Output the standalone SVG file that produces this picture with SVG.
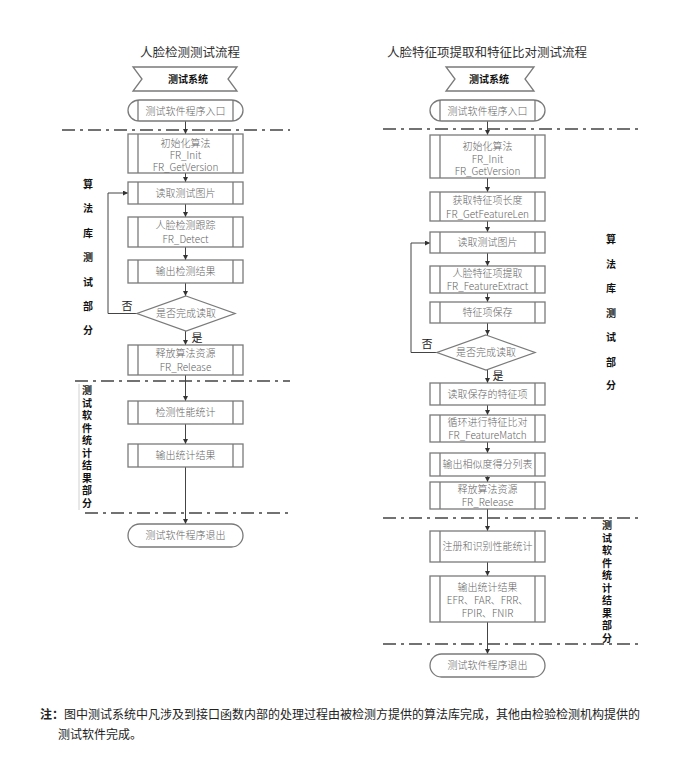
<svg xmlns="http://www.w3.org/2000/svg" width="675" height="758" viewBox="0 0 675 758">
<defs>
<style>
.box{fill:#fff;stroke:#7a7a7a;stroke-width:1.3}
.in{stroke:#7a7a7a;stroke-width:1.3;fill:none}
.t{font-family:"Noto Sans CJK SC","Noto Sans",sans-serif;font-size:10px;fill:#666;text-anchor:middle;font-weight:300}
.bt{font-family:"Noto Sans CJK SC",sans-serif;font-size:10px;fill:#111;text-anchor:middle;font-weight:700}
.title{font-family:"Noto Sans CJK SC",sans-serif;font-size:12.5px;fill:#333;text-anchor:middle}
.lab{font-family:"Noto Sans CJK SC",sans-serif;font-size:10px;fill:#111;text-anchor:middle;font-weight:700}
.yn{font-family:"Noto Sans CJK SC",sans-serif;font-size:11px;fill:#222;text-anchor:middle}
.con{stroke:#444;stroke-width:1;fill:none}
.dash{stroke:#444;stroke-width:1.3;fill:none;stroke-dasharray:13 5 3 5}
.note{font-family:"Liberation Serif","Noto Sans CJK SC",serif;font-size:12px;fill:#222}
</style>
<marker id="ah" viewBox="0 0 8 8" refX="8" refY="4" markerWidth="5" markerHeight="5" orient="auto">
<path d="M0,0 L8,4 L0,8 z" fill="#333"/>
</marker>
</defs>
<rect width="675" height="758" fill="#fff"/>

<text class="title" x="190" y="57">人脸检测测试流程</text>
<text class="title" x="487" y="57">人脸特征项提取和特征比对测试流程</text>

<g id="separators">
<line class="dash" x1="62" y1="130" x2="290" y2="130"/>
<line class="dash" x1="75" y1="381" x2="290" y2="381"/>
<line class="dash" x1="85" y1="513" x2="290" y2="513"/>
<line x1="79" y1="384" x2="79" y2="510" stroke="#c4c4c4" stroke-width="0.8"/>
<line class="dash" x1="383" y1="129" x2="640" y2="129"/>
<line class="dash" x1="383" y1="518" x2="640" y2="518"/>
<line class="dash" x1="383" y1="644" x2="640" y2="644"/>
</g>

<g id="labels">
<text class="lab" x="88"><tspan x="88" y="188">算</tspan><tspan x="88" y="212">法</tspan><tspan x="88" y="237">库</tspan><tspan x="88" y="261">测</tspan><tspan x="88" y="286">试</tspan><tspan x="88" y="310">部</tspan><tspan x="88" y="334">分</tspan></text>
<text class="lab" x="87"><tspan x="87" y="394">测</tspan><tspan x="87" y="406.5">试</tspan><tspan x="87" y="419">软</tspan><tspan x="87" y="431.5">件</tspan><tspan x="87" y="444">统</tspan><tspan x="87" y="456.5">计</tspan><tspan x="87" y="469">结</tspan><tspan x="87" y="481.5">果</tspan><tspan x="87" y="494">部</tspan><tspan x="87" y="506.5">分</tspan></text>
<text class="lab" x="611"><tspan x="611" y="243">算</tspan><tspan x="611" y="268">法</tspan><tspan x="611" y="292">库</tspan><tspan x="611" y="317">测</tspan><tspan x="611" y="341">试</tspan><tspan x="611" y="366">部</tspan><tspan x="611" y="389">分</tspan></text>
<text class="lab" x="607"><tspan x="607" y="529">测</tspan><tspan x="607" y="541.5">试</tspan><tspan x="607" y="554">软</tspan><tspan x="607" y="566.5">件</tspan><tspan x="607" y="579">统</tspan><tspan x="607" y="591.5">计</tspan><tspan x="607" y="604">结</tspan><tspan x="607" y="616.5">果</tspan><tspan x="607" y="629">部</tspan><tspan x="607" y="641.5">分</tspan></text>
</g>

<g id="connectors">
<line class="con" x1="185.5" y1="121" x2="185.5" y2="134" marker-end="url(#ah)"/>
<line class="con" x1="185.5" y1="173" x2="185.5" y2="182" marker-end="url(#ah)"/>
<line class="con" x1="185.5" y1="204" x2="185.5" y2="217" marker-end="url(#ah)"/>
<line class="con" x1="185.5" y1="247" x2="185.5" y2="260" marker-end="url(#ah)"/>
<line class="con" x1="185.5" y1="283" x2="185.5" y2="296" marker-end="url(#ah)"/>
<line class="con" x1="185.5" y1="331" x2="185.5" y2="345" marker-end="url(#ah)"/>
<line class="con" x1="185.5" y1="375" x2="185.5" y2="401" marker-end="url(#ah)"/>
<line class="con" x1="185.5" y1="424" x2="185.5" y2="444" marker-end="url(#ah)"/>
<line class="con" x1="185.5" y1="467" x2="185.5" y2="524" marker-end="url(#ah)"/>
<polyline class="con" points="137,313.5 108,313.5 108,193 128,193" marker-end="url(#ah)"/>
<text class="yn" x="127" y="310">否</text>
<text class="yn" x="197" y="342">是</text>

<line class="con" x1="487.5" y1="121" x2="487.5" y2="135" marker-end="url(#ah)"/>
<line class="con" x1="487.5" y1="178" x2="487.5" y2="192" marker-end="url(#ah)"/>
<line class="con" x1="487.5" y1="221" x2="487.5" y2="232" marker-end="url(#ah)"/>
<line class="con" x1="487.5" y1="253" x2="487.5" y2="266" marker-end="url(#ah)"/>
<line class="con" x1="487.5" y1="293" x2="487.5" y2="302" marker-end="url(#ah)"/>
<line class="con" x1="487.5" y1="323" x2="487.5" y2="335" marker-end="url(#ah)"/>
<line class="con" x1="487.5" y1="370" x2="487.5" y2="383" marker-end="url(#ah)"/>
<line class="con" x1="487.5" y1="405" x2="487.5" y2="415" marker-end="url(#ah)"/>
<line class="con" x1="487.5" y1="442" x2="487.5" y2="453" marker-end="url(#ah)"/>
<line class="con" x1="487.5" y1="476" x2="487.5" y2="482" marker-end="url(#ah)"/>
<line class="con" x1="487.5" y1="509" x2="487.5" y2="531" marker-end="url(#ah)"/>
<line class="con" x1="487.5" y1="562" x2="487.5" y2="576" marker-end="url(#ah)"/>
<line class="con" x1="487.5" y1="622" x2="487.5" y2="654" marker-end="url(#ah)"/>
<polyline class="con" points="437,352.5 411,352.5 411,243 430,243" marker-end="url(#ah)"/>
<text class="yn" x="427" y="348">否</text>
<text class="yn" x="498" y="380">是</text>
</g>

<g id="L-system">
<path class="box" d="M133,67 H237 L228,79 L237,91 H133 L142,79 Z"/>
<text class="bt" x="188" y="83">测试系统</text>
</g>
<g id="L-start">
<path class="box" d="M139.5,100 H231.5 A11.5,10.5 0 0 1 231.5,121 H139.5 A11.5,10.5 0 0 1 139.5,100 Z"/>
<line class="in" x1="138" y1="100" x2="138" y2="121"/><line class="in" x1="233" y1="100" x2="233" y2="121"/>
<text class="t" x="185.5" y="114.5">测试软件程序入口</text>
</g>
<g id="L-init">
<rect class="box" x="128" y="134" width="115" height="39"/>
<line class="in" x1="138" y1="134" x2="138" y2="173"/><line class="in" x1="233" y1="134" x2="233" y2="173"/>
<text class="t" x="185.5" y="147">初始化算法</text>
<text class="t" x="185.5" y="159">FR_Init</text>
<text class="t" x="185.5" y="171">FR_GetVersion</text>
</g>
<g id="L-read">
<rect class="box" x="128" y="182" width="115" height="22"/>
<line class="in" x1="138" y1="182" x2="138" y2="204"/><line class="in" x1="233" y1="182" x2="233" y2="204"/>
<text class="t" x="185.5" y="196.5">读取测试图片</text>
</g>
<g id="L-detect">
<rect class="box" x="128" y="217" width="115" height="30"/>
<line class="in" x1="138" y1="217" x2="138" y2="247"/><line class="in" x1="233" y1="217" x2="233" y2="247"/>
<text class="t" x="185.5" y="229">人脸检测跟踪</text>
<text class="t" x="185.5" y="243">FR_Detect</text>
</g>
<g id="L-output">
<rect class="box" x="128" y="260" width="115" height="23"/>
<line class="in" x1="138" y1="260" x2="138" y2="283"/><line class="in" x1="233" y1="260" x2="233" y2="283"/>
<text class="t" x="185.5" y="275">输出检测结果</text>
</g>
<g id="L-decision">
<path class="box" d="M186,296 L235,313.5 L186,331 L137,313.5 Z"/>
<text class="t" x="186" y="317">是否完成读取</text>
</g>
<g id="L-release">
<rect class="box" x="128" y="345" width="115" height="30"/>
<line class="in" x1="138" y1="345" x2="138" y2="375"/><line class="in" x1="233" y1="345" x2="233" y2="375"/>
<text class="t" x="185.5" y="357">释放算法资源</text>
<text class="t" x="185.5" y="371">FR_Release</text>
</g>
<g id="L-stat">
<rect class="box" x="128" y="401" width="115" height="23"/>
<line class="in" x1="138" y1="401" x2="138" y2="424"/><line class="in" x1="233" y1="401" x2="233" y2="424"/>
<text class="t" x="185.5" y="416">检测性能统计</text>
</g>
<g id="L-out2">
<rect class="box" x="128" y="444" width="115" height="23"/>
<line class="in" x1="138" y1="444" x2="138" y2="467"/><line class="in" x1="233" y1="444" x2="233" y2="467"/>
<text class="t" x="185.5" y="459">输出统计结果</text>
</g>
<g id="L-end">
<rect class="box" x="128" y="524" width="115" height="23" rx="11.5" ry="11.5"/>
<text class="t" x="185.5" y="539">测试软件程序退出</text>
</g>

<g id="R-system">
<path class="box" d="M446,67 H534 L525,79 L534,91 H446 L455,79 Z"/>
<text class="bt" x="489" y="83">测试系统</text>
</g>
<g id="R-start">
<path class="box" d="M441.5,100 H533.5 A11.5,10.5 0 0 1 533.5,121 H441.5 A11.5,10.5 0 0 1 441.5,100 Z"/>
<line class="in" x1="440" y1="100" x2="440" y2="121"/><line class="in" x1="535" y1="100" x2="535" y2="121"/>
<text class="t" x="487.5" y="114.5">测试软件程序入口</text>
</g>
<g id="R-init">
<rect class="box" x="430" y="135" width="115" height="43"/>
<line class="in" x1="440" y1="135" x2="440" y2="178"/><line class="in" x1="535" y1="135" x2="535" y2="178"/>
<text class="t" x="487.5" y="150">初始化算法</text>
<text class="t" x="487.5" y="162.5">FR_Init</text>
<text class="t" x="487.5" y="175">FR_GetVersion</text>
</g>
<g id="R-getlen">
<rect class="box" x="430" y="192" width="115" height="29"/>
<line class="in" x1="440" y1="192" x2="440" y2="221"/><line class="in" x1="535" y1="192" x2="535" y2="221"/>
<text class="t" x="487.5" y="204">获取特征项长度</text>
<text class="t" x="487.5" y="217.5">FR_GetFeatureLen</text>
</g>
<g id="R-read">
<rect class="box" x="430" y="232" width="115" height="21"/>
<line class="in" x1="440" y1="232" x2="440" y2="253"/><line class="in" x1="535" y1="232" x2="535" y2="253"/>
<text class="t" x="487.5" y="246">读取测试图片</text>
</g>
<g id="R-extract">
<rect class="box" x="430" y="266" width="115" height="27"/>
<line class="in" x1="440" y1="266" x2="440" y2="293"/><line class="in" x1="535" y1="266" x2="535" y2="293"/>
<text class="t" x="487.5" y="277">人脸特征项提取</text>
<text class="t" x="487.5" y="290">FR_FeatureExtract</text>
</g>
<g id="R-save">
<rect class="box" x="430" y="302" width="115" height="21"/>
<line class="in" x1="440" y1="302" x2="440" y2="323"/><line class="in" x1="535" y1="302" x2="535" y2="323"/>
<text class="t" x="487.5" y="316">特征项保存</text>
</g>
<g id="R-decision">
<path class="box" d="M486,335 L535,352.5 L486,370 L437,352.5 Z"/>
<text class="t" x="486" y="356">是否完成读取</text>
</g>
<g id="R-readsaved">
<rect class="box" x="430" y="383" width="115" height="22"/>
<line class="in" x1="440" y1="383" x2="440" y2="405"/><line class="in" x1="535" y1="383" x2="535" y2="405"/>
<text class="t" x="487.5" y="397.5">读取保存的特征项</text>
</g>
<g id="R-match">
<rect class="box" x="430" y="415" width="115" height="27"/>
<line class="in" x1="440" y1="415" x2="440" y2="442"/><line class="in" x1="535" y1="415" x2="535" y2="442"/>
<text class="t" x="487.5" y="426">循环进行特征比对</text>
<text class="t" x="487.5" y="439">FR_FeatureMatch</text>
</g>
<g id="R-score">
<rect class="box" x="430" y="453" width="115" height="23"/>
<line class="in" x1="440" y1="453" x2="440" y2="476"/><line class="in" x1="535" y1="453" x2="535" y2="476"/>
<text class="t" x="487.5" y="468">输出相似度得分列表</text>
</g>
<g id="R-release">
<rect class="box" x="430" y="482" width="115" height="27"/>
<line class="in" x1="440" y1="482" x2="440" y2="509"/><line class="in" x1="535" y1="482" x2="535" y2="509"/>
<text class="t" x="487.5" y="493">释放算法资源</text>
<text class="t" x="487.5" y="506">FR_Release</text>
</g>
<g id="R-register">
<rect class="box" x="430" y="531" width="115" height="31"/>
<line class="in" x1="440" y1="531" x2="440" y2="562"/><line class="in" x1="535" y1="531" x2="535" y2="562"/>
<text class="t" x="487.5" y="550">注册和识别性能统计</text>
</g>
<g id="R-out">
<rect class="box" x="430" y="576" width="115" height="46"/>
<line class="in" x1="440" y1="576" x2="440" y2="622"/><line class="in" x1="535" y1="576" x2="535" y2="622"/>
<text class="t" x="487.5" y="591">输出统计结果</text>
<text class="t" x="487.5" y="604">EFR、FAR、FRR、</text>
<text class="t" x="487.5" y="617">FPIR、FNIR</text>
</g>
<g id="R-end">
<rect class="box" x="430" y="654" width="115" height="23" rx="11.5" ry="11.5"/>
<text class="t" x="487.5" y="669">测试软件程序退出</text>
</g>

<g id="note">
<text class="note" x="40" y="719"><tspan font-weight="700">注：</tspan>图中测试系统中凡涉及到接口函数内部的处理过程由被检测方提供的算法库完成，其他由检验检测机构提供的</text>
<text class="note" x="58" y="739">测试软件完成。</text>
</g>
</svg>
